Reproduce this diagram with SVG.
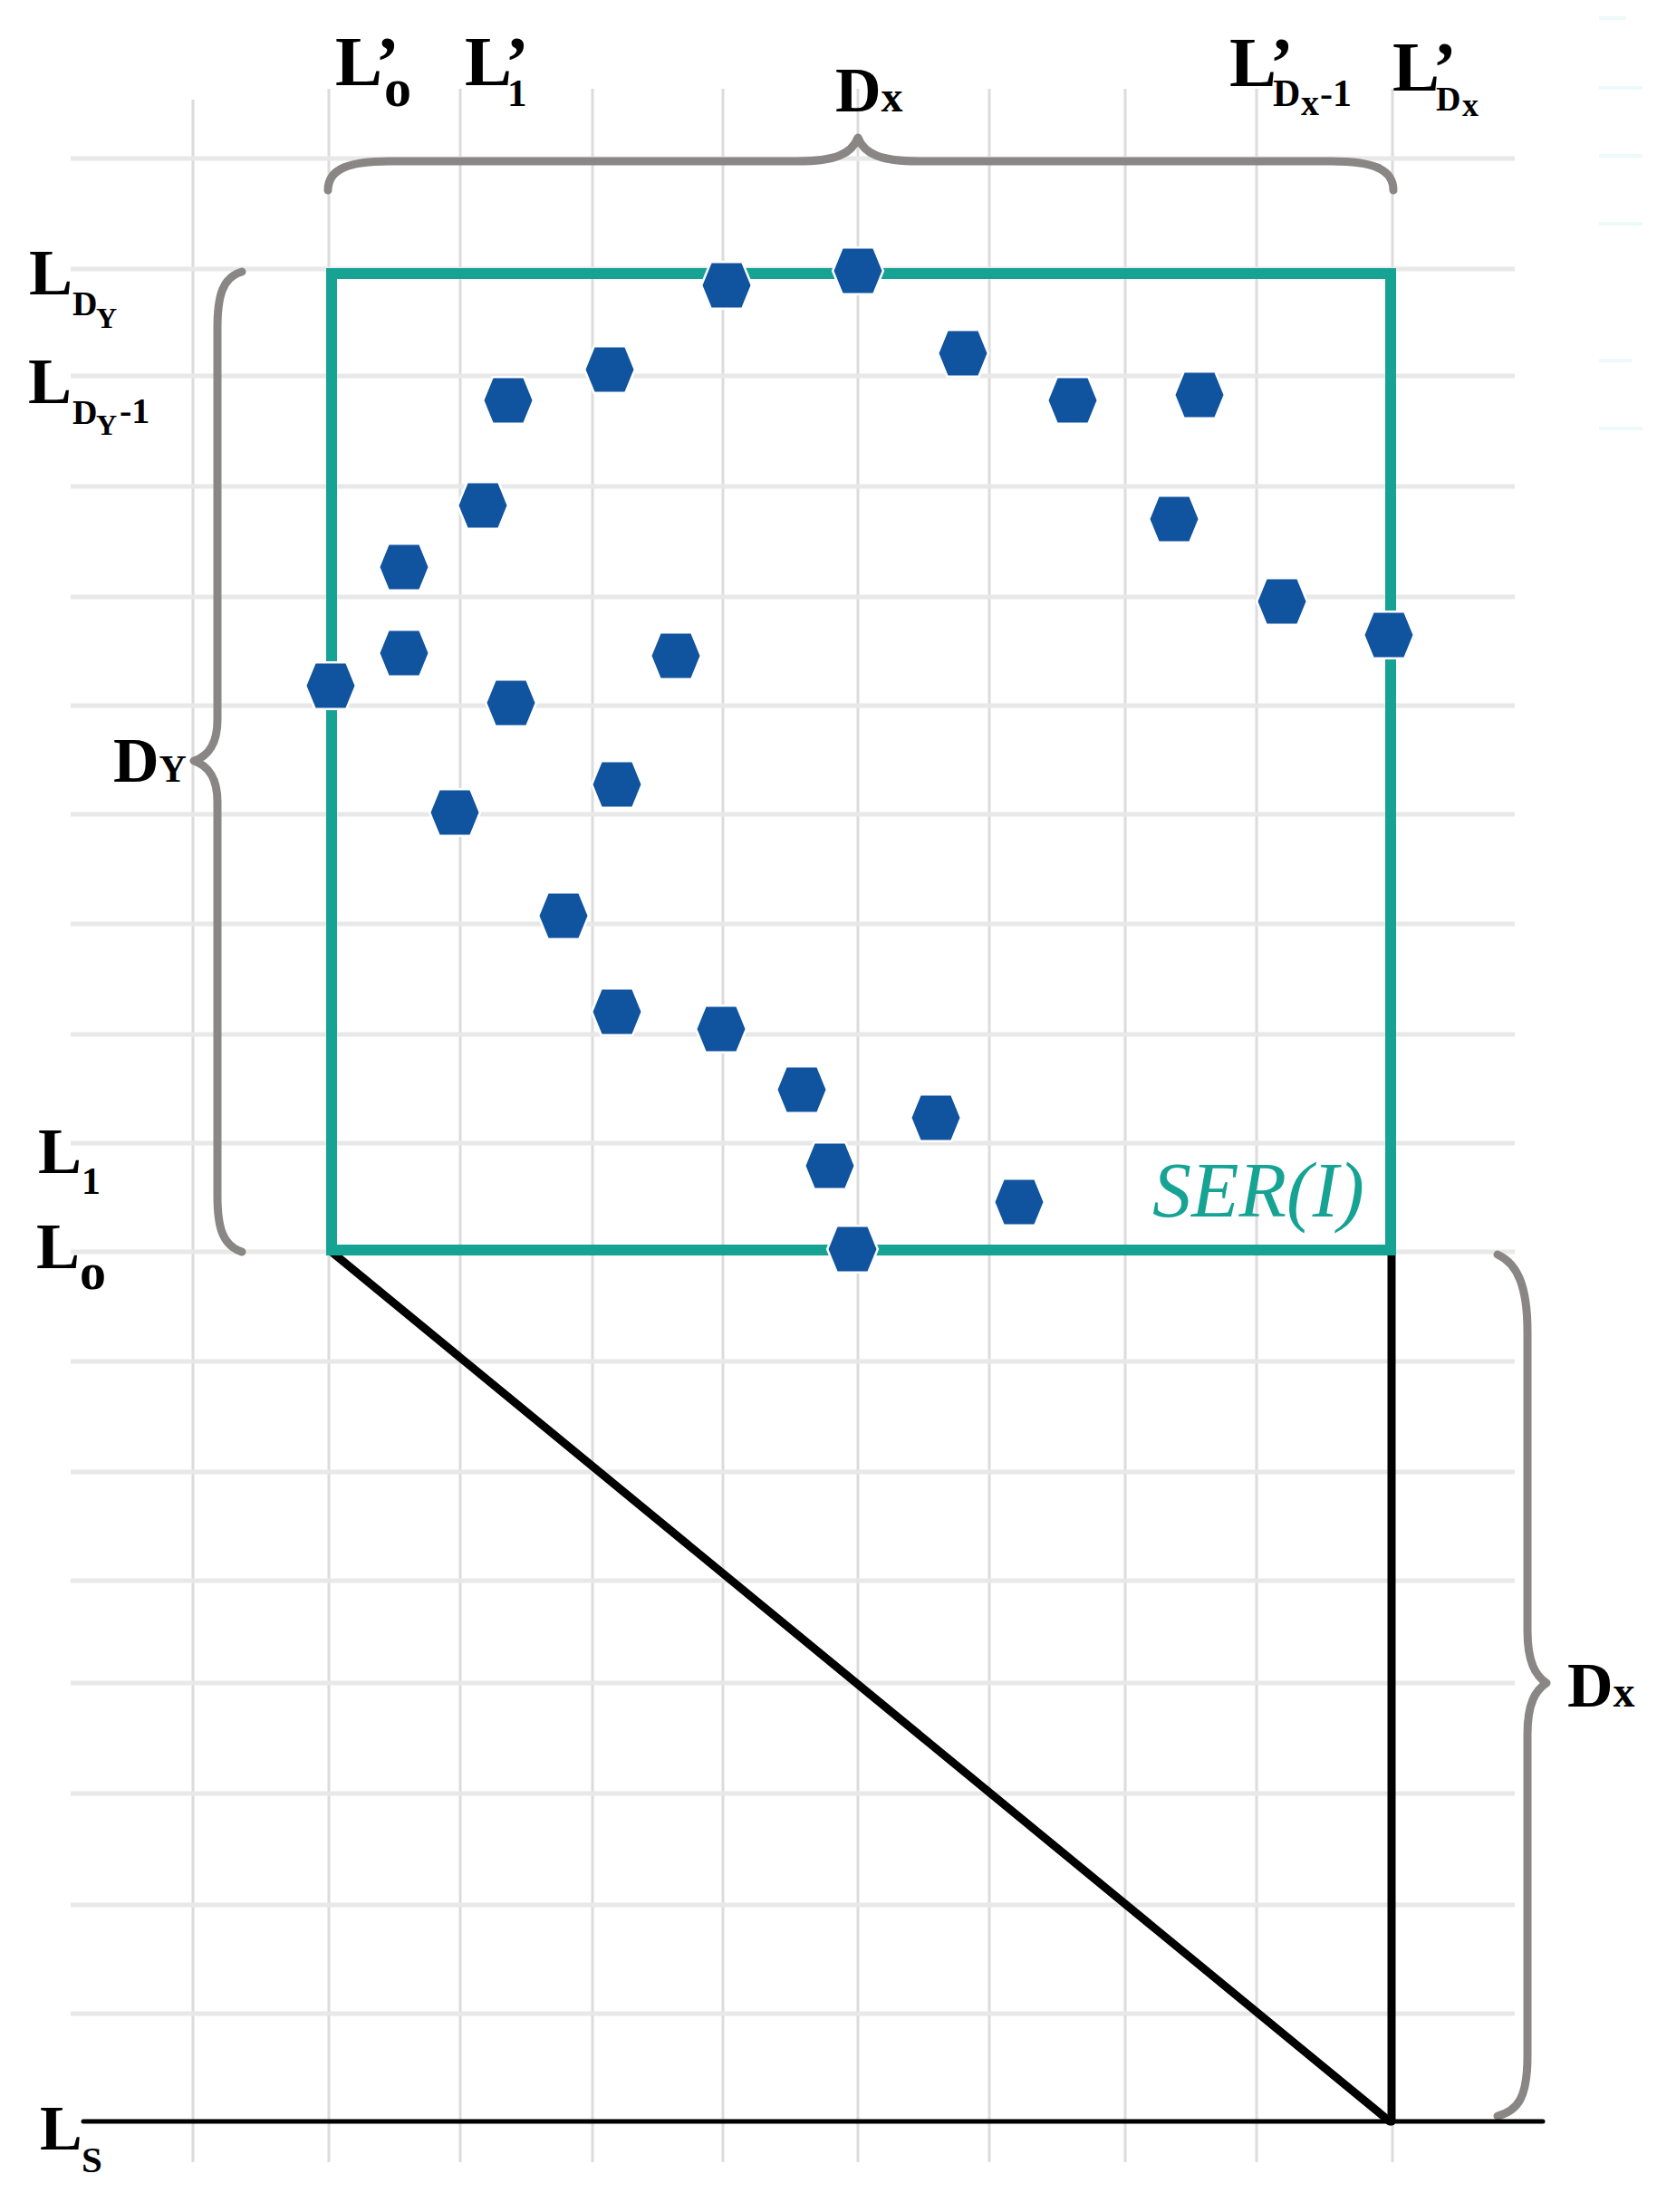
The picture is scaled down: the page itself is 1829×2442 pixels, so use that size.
<svg xmlns="http://www.w3.org/2000/svg" xmlns:xlink="http://www.w3.org/1999/xlink" width="1829" height="2442" viewBox="0 0 1829 2442">
<style>
.vg{stroke:#dcdcdc;stroke-width:3}
.hg{stroke:#e8e8e8;stroke-width:5}
.art{stroke:#ecfafa;stroke-width:4}
.brace{fill:none;stroke:#8a8686;stroke-width:9;stroke-linecap:round;stroke-linejoin:round}
.blk{stroke:#000;stroke-width:9;stroke-linecap:round}
.lab{font-family:"Liberation Serif","Times New Roman",serif;font-weight:bold;fill:#000}
.frak{font-family:"Liberation Serif","Times New Roman",serif;font-weight:bold;fill:#000}
.ser{font-family:"Liberation Serif","Times New Roman",serif;font-style:italic;fill:#16a394;font-size:86px}
.hex{fill:#10539f;stroke:#ffffff;stroke-width:5;paint-order:stroke}
</style>
<defs>
<polygon id="hx" points="-26.5,0 -16.5,-24.5 16.5,-24.5 26.5,0 16.5,24.5 -16.5,24.5"/>
</defs>
<rect width="1829" height="2442" fill="#ffffff"/>
<g id="grid">
<line class="vg" x1="213" y1="110" x2="213" y2="2387"/>
<line class="vg" x1="363" y1="98" x2="363" y2="2387"/>
<line class="vg" x1="508" y1="98" x2="508" y2="2387"/>
<line class="vg" x1="654" y1="98" x2="654" y2="2387"/>
<line class="vg" x1="798" y1="98" x2="798" y2="2387"/>
<line class="vg" x1="947" y1="98" x2="947" y2="2387"/>
<line class="vg" x1="1092" y1="98" x2="1092" y2="2387"/>
<line class="vg" x1="1242" y1="98" x2="1242" y2="2387"/>
<line class="vg" x1="1387" y1="98" x2="1387" y2="2387"/>
<line class="vg" x1="1537" y1="98" x2="1537" y2="2387"/>
<line class="hg" x1="78" y1="175" x2="1672" y2="175"/>
<line class="hg" x1="78" y1="297" x2="1672" y2="297"/>
<line class="hg" x1="78" y1="415" x2="1672" y2="415"/>
<line class="hg" x1="78" y1="537" x2="1672" y2="537"/>
<line class="hg" x1="78" y1="659" x2="1672" y2="659"/>
<line class="hg" x1="78" y1="779" x2="1672" y2="779"/>
<line class="hg" x1="78" y1="899" x2="1672" y2="899"/>
<line class="hg" x1="78" y1="1020" x2="1672" y2="1020"/>
<line class="hg" x1="78" y1="1142" x2="1672" y2="1142"/>
<line class="hg" x1="78" y1="1262" x2="1672" y2="1262"/>
<line class="hg" x1="78" y1="1382" x2="1672" y2="1382"/>
<line class="hg" x1="78" y1="1503" x2="1672" y2="1503"/>
<line class="hg" x1="78" y1="1625" x2="1672" y2="1625"/>
<line class="hg" x1="78" y1="1745" x2="1672" y2="1745"/>
<line class="hg" x1="78" y1="1858" x2="1672" y2="1858"/>
<line class="hg" x1="78" y1="1980" x2="1672" y2="1980"/>
<line class="hg" x1="78" y1="2103" x2="1672" y2="2103"/>
<line class="hg" x1="78" y1="2223" x2="1672" y2="2223"/>
<line class="art" x1="1765" y1="20" x2="1795" y2="20"/>
<line class="art" x1="1765" y1="97" x2="1813" y2="97"/>
<line class="art" x1="1765" y1="172" x2="1813" y2="172"/>
<line class="art" x1="1765" y1="247" x2="1813" y2="247"/>
<line class="art" x1="1765" y1="398" x2="1801" y2="398"/>
<line class="art" x1="1765" y1="473" x2="1813" y2="473"/>
</g>
<g id="connectors">
<path class="brace" d="M362,210 C362,186 386,178 430,178 L880,178 C922,178 940,170 947,152 C954,170 972,178 1014,178 L1470,178 C1514,178 1538,186 1538,210"/>
<path class="brace" d="M267,300 C246,306 240,326 240,362 L240,795 C240,820 230,835 214,840 C230,845 240,860 240,885 L240,1320 C240,1356 246,1375 267,1382"/>
<path class="brace" d="M1653,1385 C1675,1395 1686,1420 1686,1470 L1686,1800 C1686,1835 1695,1850 1707,1858 C1695,1866 1686,1880 1686,1915 L1686,2270 C1686,2315 1676,2330 1653,2336"/>
<line class="blk" x1="366" y1="1382" x2="1534" y2="2342"/>
<line class="blk" x1="1536" y1="1382" x2="1536" y2="2342"/>
<line x1="92" y1="2342" x2="1703" y2="2342" stroke="#000" stroke-width="5" stroke-linecap="round"/>
</g>
<g id="ser-box">
<rect x="366" y="302" width="1169" height="1078" fill="none" stroke="#16a394" stroke-width="12"/>
<text class="ser" x="1272" y="1343">SER(I)</text>
</g>
<g id="points">
<use class="hex" xlink:href="#hx" x="802" y="315"/>
<use class="hex" xlink:href="#hx" x="947" y="299"/>
<use class="hex" xlink:href="#hx" x="1063" y="390"/>
<use class="hex" xlink:href="#hx" x="673" y="408"/>
<use class="hex" xlink:href="#hx" x="561" y="442"/>
<use class="hex" xlink:href="#hx" x="1184" y="442"/>
<use class="hex" xlink:href="#hx" x="1324" y="436"/>
<use class="hex" xlink:href="#hx" x="533" y="558"/>
<use class="hex" xlink:href="#hx" x="1296" y="573"/>
<use class="hex" xlink:href="#hx" x="446" y="626"/>
<use class="hex" xlink:href="#hx" x="1415" y="664"/>
<use class="hex" xlink:href="#hx" x="1533" y="701"/>
<use class="hex" xlink:href="#hx" x="446" y="721"/>
<use class="hex" xlink:href="#hx" x="746" y="724"/>
<use class="hex" xlink:href="#hx" x="365" y="757"/>
<use class="hex" xlink:href="#hx" x="564" y="776"/>
<use class="hex" xlink:href="#hx" x="681" y="866"/>
<use class="hex" xlink:href="#hx" x="502" y="897"/>
<use class="hex" xlink:href="#hx" x="622" y="1011"/>
<use class="hex" xlink:href="#hx" x="681" y="1117"/>
<use class="hex" xlink:href="#hx" x="796" y="1136"/>
<use class="hex" xlink:href="#hx" x="885" y="1203"/>
<use class="hex" xlink:href="#hx" x="1033" y="1234"/>
<use class="hex" xlink:href="#hx" x="916" y="1287"/>
<use class="hex" xlink:href="#hx" x="1125" y="1327"/>
<use class="hex" xlink:href="#hx" x="941" y="1379"/>
</g>
<g id="labels-top">
<text class="lab" font-size="78"><tspan x="370" y="94">L’</tspan><tspan x="424" y="117" font-size="60">o</tspan></text>
<text class="lab" font-size="78"><tspan x="513" y="94">L’</tspan><tspan x="560" y="117" font-size="43">1</tspan></text>
<text class="frak" x="922" y="123"><tspan font-size="70">D</tspan><tspan font-size="48">x</tspan></text>
<text class="lab" font-size="78"><tspan x="1357" y="95">L’</tspan><tspan x="1405" y="117" font-size="42">D</tspan><tspan x="1436" y="127" font-size="40">x</tspan><tspan x="1457" y="117" font-size="42">-1</tspan></text>
<text class="lab" font-size="78"><tspan x="1537" y="100">L’</tspan><tspan x="1585" y="122" font-size="38">D</tspan><tspan x="1614" y="128" font-size="36">x</tspan></text>
</g>
<g id="labels-left">
<text class="lab" font-size="72"><tspan x="32" y="325">L</tspan><tspan x="80" y="348" font-size="38">D</tspan><tspan x="106" y="362" font-size="32">Y</tspan></text>
<text class="lab" font-size="72"><tspan x="31" y="445">L</tspan><tspan x="80" y="468" font-size="38">D</tspan><tspan x="106" y="480" font-size="32">Y</tspan><tspan x="132" y="467" font-size="40">-1</tspan></text>
<text class="frak" x="125" y="863"><tspan font-size="70">D</tspan><tspan font-size="42">Y</tspan></text>
<text class="lab" font-size="72"><tspan x="42" y="1295">L</tspan><tspan x="90" y="1318" font-size="42">1</tspan></text>
<text class="lab" font-size="72"><tspan x="40" y="1400">L</tspan><tspan x="88" y="1423" font-size="58">o</tspan></text>
<text class="lab" font-size="70"><tspan x="44" y="2373">L</tspan><tspan x="90" y="2398" font-size="41">S</tspan></text>
</g>
<g id="label-right">
<text class="frak" x="1730" y="1884"><tspan font-size="70">D</tspan><tspan font-size="48">x</tspan></text>
</g>
</svg>
